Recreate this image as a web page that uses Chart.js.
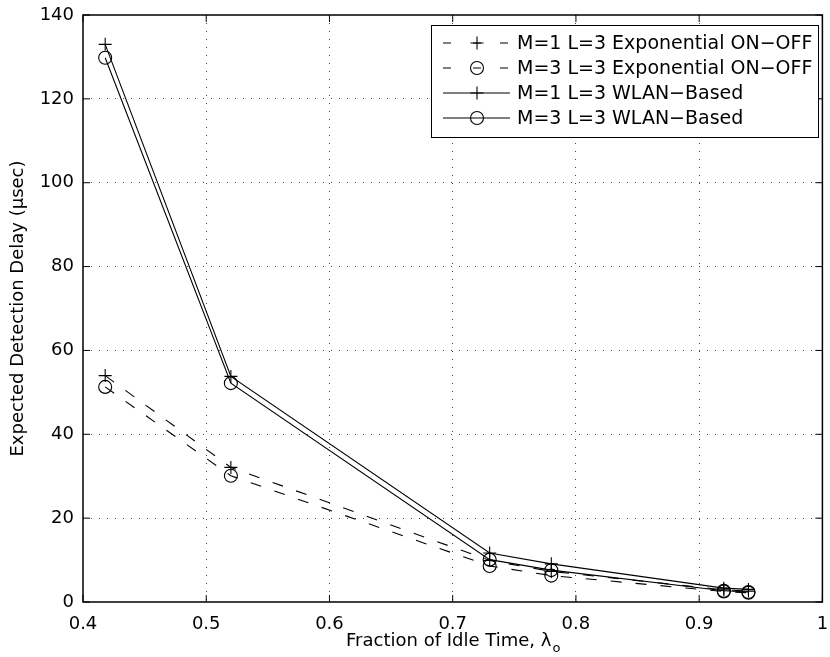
<!DOCTYPE html>
<html>
<head>
<meta charset="utf-8">
<script src="https://cdn.jsdelivr.net/npm/chart.js@4/dist/chart.umd.min.js"></script>
<style>
  html, body { margin: 0; padding: 0; background: #fff; }
  #wrap { width: 830px; height: 657px; }
</style>
</head>
<body>
<div id="wrap"><canvas id="delayChart" width="830" height="657"></canvas></div>
<script>
// idle time fractions (x) and expected detection delay in usec (y)
const idleFraction = [0.418, 0.52, 0.73, 0.78, 0.92, 0.94];
const m1ExpOnOff = [54, 32.1, 9.9, 7.3, 2.9, 2.6];
const m3ExpOnOff = [51.3, 30.1, 8.6, 6.3, 2.5, 2.2];
const m1Wlan = [133, 53.8, 11.7, 9.1, 3.3, 3.0];
const m3Wlan = [129.8, 52.2, 10.1, 7.6, 2.7, 2.4];

const seriesLabels = [
  "M=1 L=3 Exponential ON\u2212OFF",
  "M=3 L=3 Exponential ON\u2212OFF",
  "M=1 L=3 WLAN\u2212Based",
  "M=3 L=3 WLAN\u2212Based",
];
const xTicks = [0.4, 0.5, 0.6, 0.7, 0.8, 0.9, 1];
const yTicks = [0, 20, 40, 60, 80, 100, 120, 140];

const FONT = '"DejaVu Sans", "Liberation Sans", sans-serif';
const canvas = document.getElementById("delayChart");

function toPoints(values) {
  return idleFraction.map((x, i) => ({ x: x, y: values[i] }));
}

function makeSet(label, values, marker, dashed) {
  return {
    label: label,
    data: toPoints(values),
    showLine: true,
    borderColor: "#000",
    borderWidth: 1.1,
    borderDash: dashed ? [11, 14] : [],
    pointStyle: marker,
    pointRadius: 6.5,
    pointHoverRadius: 6.5,
    pointBorderWidth: 1.1,
    pointBorderColor: "#000",
    pointBackgroundColor: "rgba(0,0,0,0)",
    tension: 0,
  };
}

const edgeless = (ctx) => {
  const s = ctx.scale;
  if (!ctx.tick) return "rgba(0,0,0,0)";
  if (ctx.tick.value === s.min || ctx.tick.value === s.max) return "rgba(0,0,0,0)";
  return "#444";
};

function drawMarker(ctx, style, x, y, r) {
  ctx.beginPath();
  if (style === "cross") {
    ctx.moveTo(x - r, y); ctx.lineTo(x + r, y);
    ctx.moveTo(x, y - r); ctx.lineTo(x, y + r);
  } else {
    ctx.arc(x, y, r, 0, Math.PI * 2);
  }
  ctx.stroke();
}

// white page, box with inward ticks, titles and the legend
const matlabFrame = {
  id: "matlabFrame",
  beforeDraw(chart) {
    const ctx = chart.ctx;
    ctx.save();
    ctx.fillStyle = "#fff";
    ctx.fillRect(0, 0, chart.width, chart.height);
    ctx.restore();
  },
  afterDraw(chart) {
    const ctx = chart.ctx;
    const a = chart.chartArea;
    const xs = chart.scales.x, ys = chart.scales.y;
    ctx.save();
    ctx.strokeStyle = "#000";
    ctx.setLineDash([]);

    // inward ticks
    ctx.lineWidth = 1;
    ctx.beginPath();
    xs.ticks.forEach((t) => {
      const px = xs.getPixelForValue(t.value);
      ctx.moveTo(px, a.bottom); ctx.lineTo(px, a.bottom - 7);
      ctx.moveTo(px, a.top); ctx.lineTo(px, a.top + 7);
    });
    ys.ticks.forEach((t) => {
      const py = ys.getPixelForValue(t.value);
      ctx.moveTo(a.left, py); ctx.lineTo(a.left + 7, py);
      ctx.moveTo(a.right, py); ctx.lineTo(a.right - 7, py);
    });
    ctx.stroke();

    ctx.lineWidth = 1.5;
    ctx.strokeRect(a.left, a.top, a.right - a.left, a.bottom - a.top);

    // axis titles
    ctx.fillStyle = "#000";
    ctx.font = "18px " + FONT;
    ctx.textBaseline = "middle";
    const xTitle = "Fraction of Idle Time, \u03bb";
    const wMain = ctx.measureText(xTitle).width;
    ctx.font = "13px " + FONT;
    const wSub = ctx.measureText("o").width;
    const xc = (a.left + a.right) / 2;
    const startX = xc - (wMain + wSub) / 2;
    ctx.font = "18px " + FONT;
    ctx.textAlign = "left";
    ctx.fillText(xTitle, startX, 641);
    ctx.font = "13px " + FONT;
    ctx.fillText("o", startX + wMain + 1, 649);

    ctx.save();
    ctx.translate(18, (a.top + a.bottom) / 2);
    ctx.rotate(-Math.PI / 2);
    ctx.font = "18px " + FONT;
    ctx.textAlign = "center";
    ctx.fillText("Expected Detection Delay (\u03bcsec)", 0, 0);
    ctx.restore();

    // legend
    const box = { left: 431, top: 25, right: 818, bottom: 137 };
    ctx.fillStyle = "#fff";
    ctx.fillRect(box.left, box.top, box.right - box.left, box.bottom - box.top);
    ctx.lineWidth = 1;
    ctx.strokeRect(box.left + 0.5, box.top + 0.5, box.right - box.left, box.bottom - box.top);
    ctx.font = "19px " + FONT;
    ctx.textAlign = "left";
    ctx.fillStyle = "#000";
    chart.data.datasets.forEach((ds, i) => {
      const y = 43 + i * 25;
      ctx.lineWidth = 1.1;
      ctx.beginPath();
      if (ds.borderDash.length) {
        ctx.moveTo(443, y); ctx.lineTo(451, y);
        ctx.moveTo(473, y); ctx.lineTo(481, y);
        ctx.moveTo(500, y); ctx.lineTo(508, y);
      } else {
        ctx.moveTo(443, y); ctx.lineTo(510, y);
      }
      ctx.stroke();
      drawMarker(ctx, ds.pointStyle, 477, y, 6.5);
      ctx.fillText(ds.label, 517, y + 1);
    });
    ctx.restore();
  },
};

new Chart(canvas, {
  type: "scatter",
  data: {
    datasets: [
      makeSet(seriesLabels[0], m1ExpOnOff, "cross", true),
      makeSet(seriesLabels[1], m3ExpOnOff, "circle", true),
      makeSet(seriesLabels[2], m1Wlan, "cross", false),
      makeSet(seriesLabels[3], m3Wlan, "circle", false),
    ],
  },
  options: {
    responsive: false,
    animation: false,
    events: [],
    layout: { padding: { left: 0, right: 3, top: 15, bottom: 0 } },
    plugins: { legend: { display: false }, tooltip: { enabled: false } },
    scales: {
      x: {
        type: "linear",
        min: xTicks[0],
        max: xTicks[xTicks.length - 1],
        afterBuildTicks: (s) => { s.ticks = xTicks.map((v) => ({ value: v })); },
        afterFit: (s) => { s.height = 55; s.paddingLeft = 0; s.paddingRight = 0; },
        grid: { color: edgeless, lineWidth: 1, drawTicks: false },
        border: { display: false, dash: [1, 7] },
        ticks: {
          color: "#000",
          font: { family: FONT, size: 18 },
          padding: 12,
          maxRotation: 0,
          callback: (v) => String(Math.round(v * 10) / 10),
        },
      },
      y: {
        type: "linear",
        min: yTicks[0],
        max: yTicks[yTicks.length - 1],
        afterBuildTicks: (s) => { s.ticks = yTicks.map((v) => ({ value: v })); },
        afterFit: (s) => { s.width = 83; s.paddingTop = 0; s.paddingBottom = 0; },
        grid: { color: edgeless, lineWidth: 1, drawTicks: false },
        border: { display: false, dash: [1, 7] },
        ticks: {
          color: "#000",
          font: { family: FONT, size: 18 },
          padding: 9,
        },
      },
    },
  },
  plugins: [matlabFrame],
});
</script>
</body>
</html>
